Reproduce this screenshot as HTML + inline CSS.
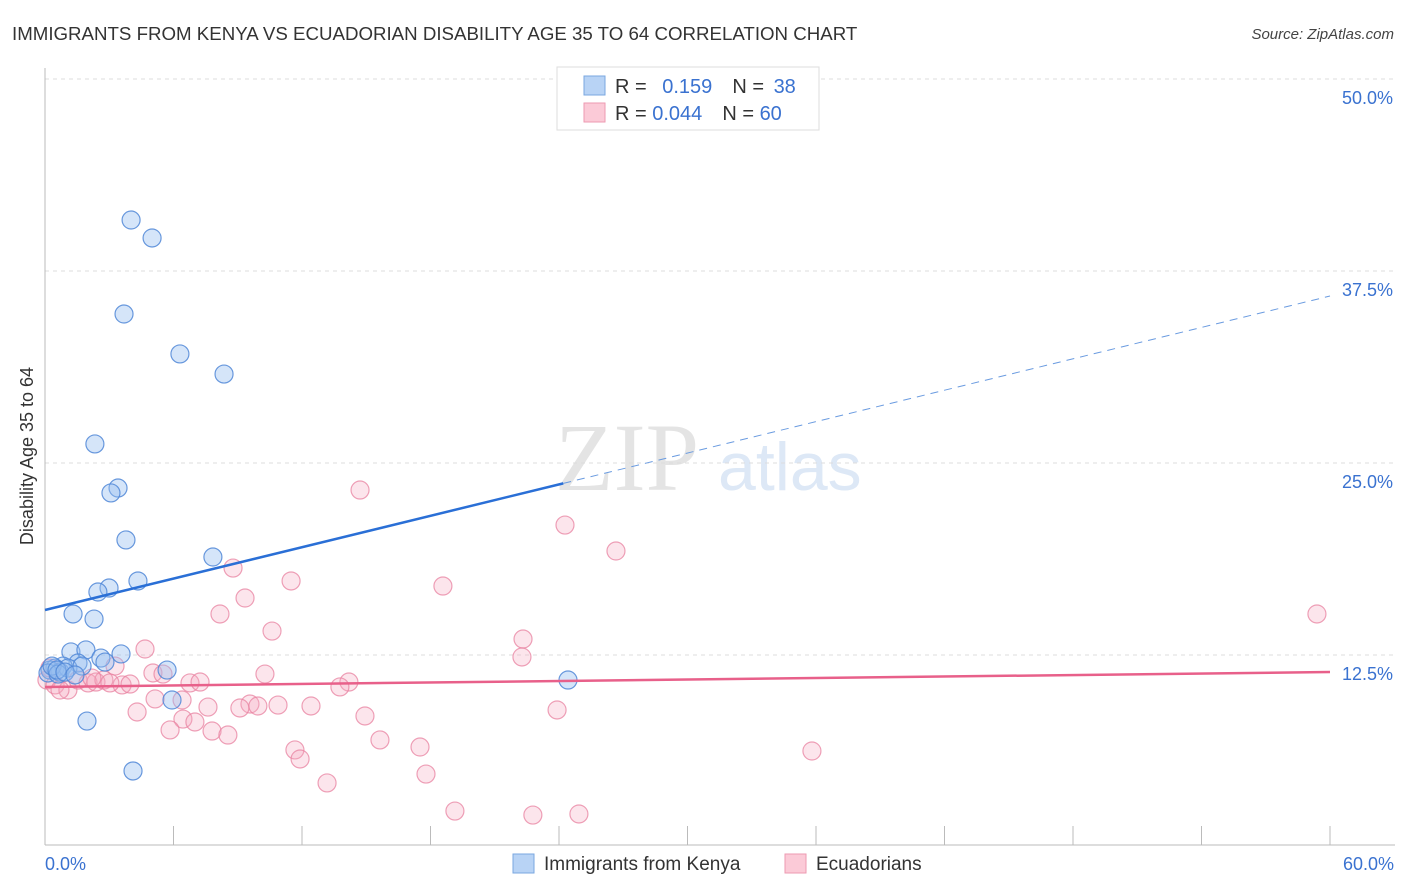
<!DOCTYPE html>
<html><head><meta charset="utf-8"><style>
body{margin:0;background:#fff;width:1406px;height:892px;overflow:hidden;font-family:"Liberation Sans",sans-serif}
</style></head><body>
<svg id="chart" width="1406" height="892" style="position:absolute;left:0;top:0">
<text x="12" y="40" font-size="18.7" fill="#333">IMMIGRANTS FROM KENYA VS ECUADORIAN DISABILITY AGE 35 TO 64 CORRELATION CHART</text>
<text x="1394" y="39" font-size="15" fill="#444" font-style="italic" text-anchor="end">Source: ZipAtlas.com</text>
<text x="555" y="490" font-size="96" fill="#e4e4e4" font-family="Liberation Serif,serif">ZIP</text>
<text x="718" y="490" font-size="68" fill="#dde8f6">atlas</text>
<text transform="translate(33,456) rotate(-90)" font-size="18" fill="#333" text-anchor="middle">Disability Age 35 to 64</text>
<g id="grid"></g><g id="marks"></g>
<g>
<rect x="557" y="67" width="262" height="63" fill="#fff" stroke="#ddd"/>
<rect x="584" y="76" width="21" height="19" fill="#b8d3f5" stroke="#7aa7e0"/>
<rect x="584" y="103" width="21" height="19" fill="#fbcad7" stroke="#ee9ab2"/>
<text x="615" y="93" font-size="20" fill="#333">R = <tspan fill="#3a72d0" dx="10">0.159</tspan><tspan dx="20" fill="#333">N = </tspan><tspan fill="#3a72d0" dx="4">38</tspan></text>
<text x="615" y="120" font-size="20" fill="#333">R = <tspan fill="#3a72d0">0.044</tspan><tspan dx="20" fill="#333">N = </tspan><tspan fill="#3a72d0">60</tspan></text>
</g>
<g>
<rect x="513" y="854" width="21" height="19" fill="#b8d3f5" stroke="#7aa7e0"/>
<text x="544" y="870" font-size="19" fill="#333">Immigrants from Kenya</text>
<rect x="785" y="854" width="21" height="19" fill="#fbcad7" stroke="#ee9ab2"/>
<text x="816" y="870" font-size="19" fill="#333">Ecuadorians</text>
</g>
<text x="45" y="870" font-size="18" fill="#3a72d0">0.0%</text>
<text x="1394" y="870" font-size="18" fill="#3a72d0" text-anchor="end">60.0%</text>
</svg>
<script>
const yTicks=[12.5,25,37.5,50];
const yTickLabels=["12.5%","25.0%","37.5%","50.0%"];
const xTicks=[0,6,12,18,24,30,36,42,48,54,60];
const kenyaX=[4.02,5.00,3.69,6.30,8.36,2.33,3.41,3.08,3.78,7.84,4.34,2.99,2.47,1.31,2.29,1.21,1.91,3.55,2.61,2.80,1.54,0.84,0.47,0.23,0.70,1.07,1.73,5.70,0.14,0.33,0.61,5.93,1.96,4.11,24.42,0.56,0.93,1.40];
const kenyaY=[40.82,39.65,34.70,32.10,30.79,26.24,23.37,23.05,19.99,18.88,17.32,16.86,16.60,15.17,14.84,12.70,12.83,12.57,12.30,12.04,11.98,11.78,11.65,11.52,11.39,11.65,11.78,11.52,11.33,11.78,11.26,9.57,8.20,4.95,10.87,11.52,11.39,11.20];
const ecuX=[14.71,24.28,26.66,8.78,11.49,18.58,9.34,8.17,59.39,10.60,22.32,4.67,22.27,3.27,5.04,5.51,10.27,0.09,0.47,1.07,1.54,2.01,2.38,2.75,3.60,3.97,6.77,7.24,14.19,13.77,6.40,5.14,9.57,9.94,10.88,9.10,12.42,7.61,4.30,23.91,6.44,7.00,14.94,5.84,7.80,8.54,15.64,11.67,17.51,11.91,17.79,35.81,13.17,19.14,22.78,24.93,0.70,3.03,0.23,2.19];
const ecuY=[23.24,20.96,19.27,18.16,17.32,16.99,16.21,15.17,15.17,14.06,13.54,12.89,12.37,11.78,11.33,11.26,11.26,10.87,10.55,10.22,10.87,10.68,10.74,10.87,10.55,10.61,10.68,10.74,10.74,10.42,9.57,9.64,9.31,9.18,9.24,9.05,9.18,9.11,8.79,8.92,8.33,8.14,8.53,7.62,7.55,7.29,6.97,6.32,6.51,5.73,4.75,6.25,4.17,2.34,2.08,2.15,10.22,10.68,11.65,11.00];
const kenyaTrend=[15.43,35.87];
const ecuTrend=[10.42,11.39];
const NS='http://www.w3.org/2000/svg';
const sx=v=>45+v*(1285/60);
const sy=v=>847-v*15.36;
function mk(tag,attrs,parent){const e=document.createElementNS(NS,tag);for(const k in attrs)e.setAttribute(k,attrs[k]);parent.appendChild(e);return e;}
const grid=document.getElementById('grid'),marks=document.getElementById('marks');
yTicks.forEach((t,i)=>{
 const l=mk('line',{x1:45,x2:1395,y1:sy(t),y2:sy(t),stroke:'#ddd','stroke-dasharray':'4,4'},grid);
 
 
 const tx=mk('text',{x:1393,y:sy(t)+25,'font-size':18,fill:'#3a72d0','text-anchor':'end'},grid);
 tx.textContent=yTickLabels[i];
 
 
});
const ax=mk('line',{x1:45,x2:45,y1:68,y2:845,stroke:'#bbb'},grid);


const bx=mk('line',{x1:45,x2:1395,y1:845,y2:845,stroke:'#bbb'},grid);


xTicks.forEach(t=>{
 const l=mk('line',{x1:sx(t),x2:sx(t),y1:826,y2:845,stroke:'#bbb'},grid);
 
 
});
ecuX.forEach((x,i)=>{
 const c=mk('circle',{cx:sx(x),cy:sy(ecuY[i]),r:9,fill:'rgba(246,170,192,0.3)',stroke:'rgba(232,130,160,0.75)','stroke-width':1.2},marks);
 
 
});
kenyaX.forEach((x,i)=>{
 const c=mk('circle',{cx:sx(x),cy:sy(kenyaY[i]),r:9,fill:'rgba(150,190,240,0.4)',stroke:'rgba(80,135,215,0.85)','stroke-width':1.2},marks);
 
 
});
const kx=24.2, ky=kenyaTrend[0]+(kenyaTrend[1]-kenyaTrend[0])*kx/60;
const k1=mk('line',{x1:sx(0),y1:sy(kenyaTrend[0]),x2:sx(kx),y2:sy(ky),stroke:'#2a6fd6','stroke-width':2.5},marks);


const k2=mk('line',{x1:sx(kx),y1:sy(ky),x2:sx(60),y2:sy(kenyaTrend[1]),stroke:'#6a9be0','stroke-width':1,'stroke-dasharray':'8,6'},marks);


const e1=mk('line',{x1:sx(0),y1:sy(ecuTrend[0]),x2:sx(60),y2:sy(ecuTrend[1]),stroke:'#e8608a','stroke-width':2.5},marks);


</script>
</body></html>
